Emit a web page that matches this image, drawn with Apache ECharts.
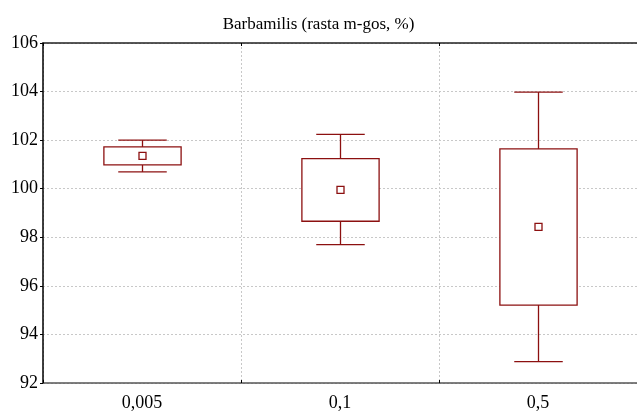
<!DOCTYPE html>
<html>
<head>
<meta charset="utf-8">
<script src="https://cdn.jsdelivr.net/npm/echarts@6/dist/echarts.min.js"></script>
<style>
  html, body { margin: 0; padding: 0; background: #fff; }
  #main { width: 637px; height: 412px; }
</style>
</head>
<body>
<div id="main"></div>
<script>
// kategorijos ir reikšmės
var categories = ['0,005', '0,1', '0,5'];
var whiskerLow = [100.69, 97.70, 92.88];
var boxLow = [100.98, 98.66, 95.21];
var means = [101.35, 99.95, 98.43];
var boxHigh = [101.72, 101.24, 101.64];
var whiskerHigh = [102.0, 102.24, 103.98];
var yTicks = { min: 92, max: 106, step: 2 };

var red = '#8c1010';
var serif = '"Liberation Serif", "DejaVu Serif", serif';

var data = [];
for (var i = 0; i < categories.length; i++) {
    data.push([i, whiskerLow[i], boxLow[i], means[i], boxHigh[i], whiskerHigh[i]]);
}

function renderBox(params, api) {
    var x = api.value(0);
    var pLow = api.coord([x, api.value(1)]);
    var pQ1 = api.coord([x, api.value(2)]);
    var pMean = api.coord([x, api.value(3)]);
    var pQ3 = api.coord([x, api.value(4)]);
    var pHigh = api.coord([x, api.value(5)]);
    var band = api.size([1, 0])[0];
    var boxW = band * 0.39;
    var capW = band * 0.245;
    var cx = Math.round(pMean[0]) + 0.5;
    var st = { stroke: red, lineWidth: 1.3, fill: null };
    return {
        type: 'group',
        children: [
            { type: 'line', shape: { x1: cx, y1: pHigh[1], x2: cx, y2: pQ3[1] }, style: st },
            { type: 'line', shape: { x1: cx, y1: pQ1[1], x2: cx, y2: pLow[1] }, style: st },
            { type: 'line', shape: { x1: cx - capW / 2, y1: pHigh[1], x2: cx + capW / 2, y2: pHigh[1] }, style: st },
            { type: 'line', shape: { x1: cx - capW / 2, y1: pLow[1], x2: cx + capW / 2, y2: pLow[1] }, style: st },
            { type: 'rect', shape: { x: cx - boxW / 2, y: pQ3[1], width: boxW, height: pQ1[1] - pQ3[1] },
              style: { stroke: red, lineWidth: 1.3, fill: '#fff' } },
            { type: 'rect', shape: { x: cx - 3.5, y: pMean[1] - 3.5, width: 7, height: 7 },
              style: { stroke: red, lineWidth: 1.3, fill: '#fff' } }
        ]
    };
}

var chart = echarts.init(document.getElementById('main'));
chart.setOption({
    animation: false,
    backgroundColor: '#fff',
    title: {
        text: 'Barbamilis (rasta m-gos, %)',
        left: 'center',
        top: 11,
        textStyle: { fontFamily: serif, fontSize: 17, fontWeight: 'normal', color: '#000' }
    },
    grid: { left: 43, right: -3, top: 43, bottom: 29 },
    xAxis: [
        {
            type: 'category',
            data: categories,
            position: 'bottom',
            axisLine: { lineStyle: { color: '#555', width: 1.5 } },
            axisTick: { show: true, inside: true, length: 3, lineStyle: { color: '#000' } },
            axisLabel: { fontFamily: serif, fontSize: 18, color: '#000', margin: 11 },
            splitLine: { show: true, lineStyle: { color: '#c8c8c8', type: [2, 2], width: 1 } }
        },
        {
            type: 'category',
            data: categories,
            position: 'top',
            axisLine: { lineStyle: { color: '#222', width: 1.5 } },
            axisTick: { show: true, inside: true, length: 3, lineStyle: { color: '#000' } },
            axisLabel: { show: false },
            splitLine: { show: false }
        }
    ],
    yAxis: {
        type: 'value',
        min: yTicks.min,
        max: yTicks.max,
        interval: yTicks.step,
        axisLine: { show: true, lineStyle: { color: '#000', width: 1.5 } },
        axisTick: { show: true, length: 3, lineStyle: { color: '#000' } },
        axisLabel: { fontFamily: serif, fontSize: 18, color: '#000', margin: 5 },
        splitLine: { show: true, lineStyle: { color: '#c8c8c8', type: [2, 2], width: 1 } }
    },
    series: [{
        type: 'custom',
        renderItem: renderBox,
        encode: { x: 0, y: [1, 2, 3, 4, 5] },
        data: data
    }]
});
</script>
</body>
</html>
